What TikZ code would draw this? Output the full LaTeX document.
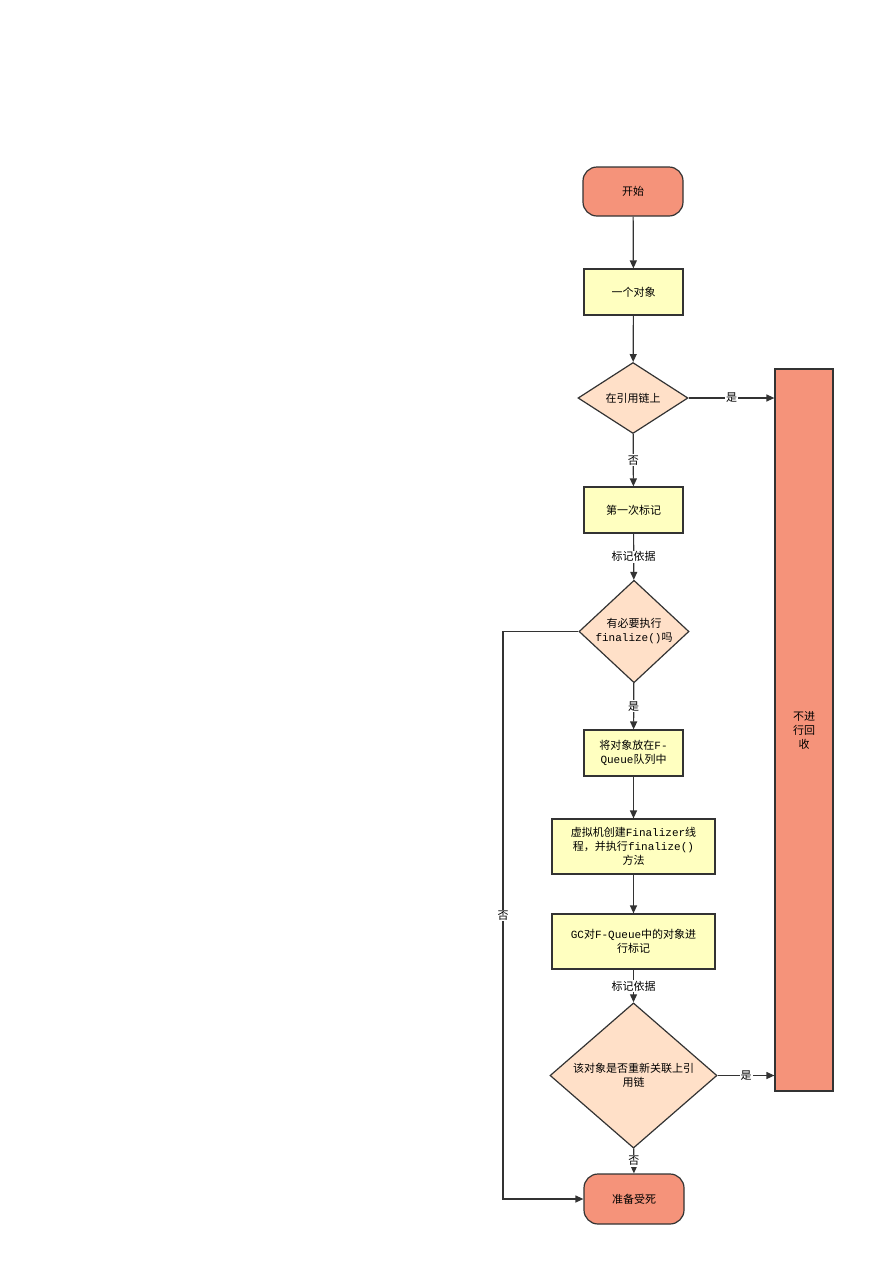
\documentclass[tikz,border=0pt]{standalone}
\usepackage{fontspec}
\setmainfont{Noto Sans CJK SC}
\setmonofont{Liberation Mono}
\usetikzlibrary{shapes.geometric,arrows.meta}
\definecolor{salmon}{HTML}{F5937A}
\definecolor{pale}{HTML}{FFFFC0}
\definecolor{peach}{HTML}{FFE0C8}
\definecolor{ln}{HTML}{333333}
\tikzset{
 base/.style={draw=ln,line width=1.2pt,font=\fontsize{11}{14}\selectfont,align=center,inner sep=1pt},
 term/.style={base,fill=salmon,rounded corners=14pt},
 proc/.style={base,fill=pale},
 dec/.style={base,fill=peach,diamond,aspect=1.5},
 arr/.style={draw=ln,line width=1.2pt,-{Triangle[length=8pt,width=7pt]}},
 lab/.style={fill=white,font=\fontsize{11}{14}\selectfont,inner sep=1pt}
}
\begin{document}
\begin{tikzpicture}[x=1pt,y=-1pt]
\useasboundingbox (0,0) rectangle (895,1286);
\node[term,minimum width=100pt,minimum height=49pt] (s) at (633,191.5) {开始};
\node[proc,minimum width=99pt,minimum height=46pt] (o) at (633.5,292) {一个对象};
\node[base,diamond,fill=peach,minimum width=110pt,minimum height=71pt,inner sep=0pt] (d1) at (633,398) {在引用链上};
\node[base,fill=salmon,minimum width=58pt,minimum height=722pt] (big) at (804,730) {不进\\行回\\收};
\node[proc,minimum width=99pt,minimum height=46pt] (m1) at (633.5,510) {第一次标记};
\node[base,diamond,fill=peach,minimum width=110pt,minimum height=71pt,inner sep=0pt] (d2) at (634,631.5) {有必要执行\\\texttt{finalize()}吗};
\node[proc,minimum width=99pt,minimum height=46pt] (q) at (633.5,753) {将对象放在\texttt{F-}\\\texttt{Queue}队列中};
\node[proc,minimum width=163pt,minimum height=55pt] (v) at (633.5,846.5) {虚拟机创建\texttt{Finalizer}线\\程，并执行\texttt{finalize()}\\方法};
\node[proc,minimum width=163pt,minimum height=55pt] (g) at (633.5,941.5) {\texttt{GC}对\texttt{F-Queue}中的对象进\\行标记};
\node[base,diamond,fill=peach,minimum width=167pt,minimum height=83pt,inner sep=0pt] (d3) at (633.5,1075.5) {该对象是否重新关联上引\\用链};
\node[term,minimum width=100pt,minimum height=50pt] (e) at (634,1199) {准备受死};
\draw[arr] (s) -- (o);
\draw[arr] (o) -- (d1);
\draw[arr] (d1.east) -- node[lab]{是} (big.west |- d1.east);
\draw[arr] (d1) -- node[lab]{否} (m1);
\draw[arr] (m1) -- node[lab]{标记依据} (d2);
\draw[arr] (d2) -- node[lab]{是} (q);
\draw[arr] (q) -- (v);
\draw[arr] (v) -- (g);
\draw[arr] (g) -- node[lab]{标记依据} (d3);
\draw[arr] (d3.east) -- node[lab]{是} (big.west |- d3.east);
\draw[arr] (d3) -- node[lab]{否} (e);
\coordinate (c1) at (503,631.5);
\coordinate (c2) at (503,1199);
\draw[arr] (d2.west) -- (c1) -- node[lab]{否} (c2) -- (e.west);
\end{tikzpicture}
\end{document}
